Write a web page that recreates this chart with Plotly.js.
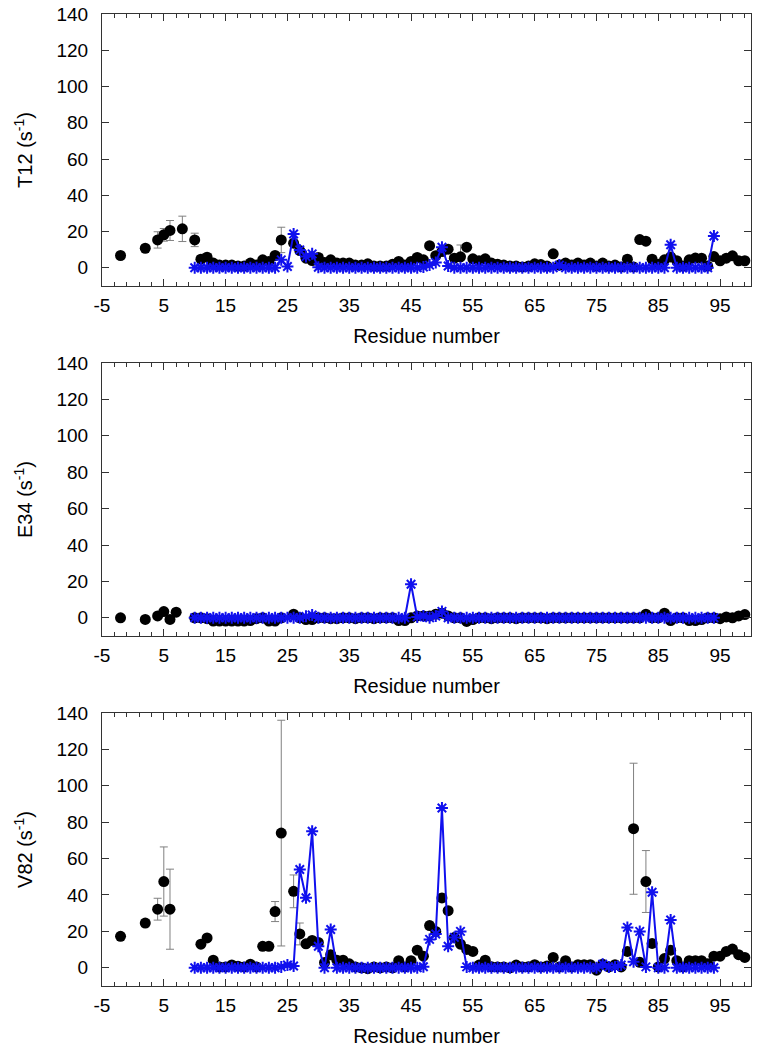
<!DOCTYPE html>
<html>
<head>
<meta charset="utf-8">
<script src="https://cdn.plot.ly/plotly-3.0.1.min.js"></script>
<style>
  body { margin: 0; background: #fff; }
  #chart { width: 759px; height: 1050px; }
</style>
</head>
<body>
<div id="chart"></div>
<script>
// residues with an experimental value (black dots)
const expResidues = [-2, 2, 4, 5, 6, 7, 8,
  10, 11, 12, 13, 14, 15, 16, 17, 18, 19, 20, 21, 22, 23, 24,
  26, 27, 28, 29, 30, 31, 32, 33, 34, 35, 36, 37, 38, 39, 40, 41, 42, 43, 44, 45, 46, 47, 48, 49,
  50, 51, 52, 53, 54, 55, 56, 57, 58, 59, 60, 61, 62, 63, 64, 65, 66, 67, 68, 69, 70, 71, 72, 73,
  74, 75, 76, 77, 78, 79, 80, 81, 82, 83, 84, 85, 86, 87, 88, 89, 90, 91, 92, 93, 94, 95, 96, 97, 98, 99];

// residues with a computed value (blue asterisks), 10..94
const calcResidues = [10, 11, 12, 13, 14, 15, 16, 17, 18, 19, 20, 21, 22, 23, 24, 25, 26, 27, 28, 29,
  30, 31, 32, 33, 34, 35, 36, 37, 38, 39, 40, 41, 42, 43, 44, 45, 46, 47, 48, 49,
  50, 51, 52, 53, 54, 55, 56, 57, 58, 59, 60, 61, 62, 63, 64, 65, 66, 67, 68, 69,
  70, 71, 72, 73, 74, 75, 76, 77, 78, 79, 80, 81, 82, 83, 84, 85, 86, 87, 88, 89,
  90, 91, 92, 93, 94];

// x tick labels (plain hyphen as in the original)
const xTickVals = [-5, 5, 15, 25, 35, 45, 55, 65, 75, 85, 95];
const xTickText = ['-5', '5', '15', '25', '35', '45', '55', '65', '75', '85', '95'];

// T12
const t12Exp = [6.8, 10.8, 15.4, 18.2, 20.6, null, 21.5,
  15.4, 4.8, 5.9, 2.6, 1.5, 1.5, 1.5, 1, 1, 2.6, 1.5, 4.4, 3.5, 6.8, 15.4,
  13.6, 9.5, 5.3, 4, 5.7, 3, 4.4, 2.6, 2.6, 2.6, 1.5, 1.5, 2.2, 1, 1, 1, 2, 3.5, 1.5, 3.5, 5.7, 4.4, 12.2, 6.7,
  9, 10.3, 5.3, 6.1, 11.4, 5, 3.9, 5, 2.6, 2, 1.5, 1, 1, 0.5, 1, 2.2, 1.8, 1, 7.7, 1.5, 2.6, 1.5, 2.6, 1.5,
  2.6, 1, 2.6, 1, 1.5, 0.5, 4.8, 0.5, 15.6, 14.7, 4.8, 2, 4.4, 6, 3.9, 1, 4.4, 5.4, 5.3, 1, 6.2, 3.9, 5.3, 6.6, 3.9, 3.9];
const t12Err = [0, 0, 4.5, 3.5, 5.5, 0, 7,
  3.7, 0, 0, 0, 0, 0, 0, 0, 0, 0, 0, 0, 0, 0, 7,
  0, 0, 0, 0, 0, 2, 0, 0, 0, 0, 0, 0, 0, 0, 0, 0, 0, 0, 0, 0, 0, 0, 0, 0,
  0, 0, 0, 6.5, 0, 0, 0, 0, 0, 0, 0, 0, 0, 0, 0, 0, 0, 0, 0, 0, 0, 0, 0, 0,
  0, 0, 0, 0, 0, 0, 0, 0, 0, 0, 0, 0, 0, 0, 0, 0, 0, 0, 0, 0, 0, 0, 0, 0, 0, 0];
const t12Calc = [0, 0, 0, 0, 0, 0, 0, 0, 0, 0, 0, 0, 0, 0, 4.4, 0.7, 18.7, 9.9, 6.2, 7.7,
  0.3, 0, 0, 0, 0, 0, 0, 0, 0, 0, 0, 0, 0, 0, 0, 0, 0, 0.5, 1.5, 3,
  11.4, 1, 0, 0, 0, 0, 0, 0, 0, 0, 0, 0, 0, 0, 0, 0, 0, 0, 0, 1.5,
  0, 0, 0, 0, 0, 0, 0, 0, 0, 0, 0, 0, 0, 0, 0, 0, 0, 12.7, 0, 0,
  0, 0, 0, 0, 17.6];

// E34
const e34Exp = [0, -0.9, 1, 3.4, -0.9, 3.1, null,
  0, 0, -0.5, -1.8, -1.8, -1.8, -1.8, -1.8, -1.8, -1.5, -0.5, 0, -1.8, -1.8, 0,
  2, 0, -1, -1, 0, 0, -0.5, -0.5, 0, 0, -0.5, 0, 0, -0.5, 0, 0, 0, -1.5, -1.5, 0, 1, 1, 1, 2,
  2.5, 1, 0, 0, -2, -1, 0, 0, -0.5, 0, 0, 0, -0.5, 0, 0, 0, 0, -0.5, 0, 0, 0, 0, 0, 0,
  0, 0, 0, 0, 0, 0, 0, 0, 0, 2, 0, 0, 2.5, -1.5, 0, 0, -1.5, -1.5, -1, 0, 0, -0.5, 0.5, 0, 1, 1.8];
const e34Err = expResidues.map(() => 0);
const e34Calc = [0, 0, 0, 0, 0, 0, 0, 0, 0, 0, 0, 0, 0, 0, 0, 0, 0, 0, 0.8, 1.5,
  0, 0, 0, 0, 0, 0, 0, 0, 0, 0, 0, 0, 0, 0, 0, 18.4, 0.5, 1, 0, 1,
  3.5, 0, 0, 0, 0, 0, 0, 0, 0, 0, 0, 0, 0, 0, 0, 0, 0, 0, 0, 0,
  0, 0, 0, 0, 0, 0, 0, 0, 0, 0, 0, 0, 0, 0, 0, 0, 0, 0, 0, 0,
  0, 0, 0, 0, 0];

// V82
const v82Exp = [17.3, 24.6, 32.2, 47.4, 32.2, null, null,
  null, 13, 16.4, 4.2, 0.5, 0.5, 1.6, 0.9, 0.5, 2, 0.5, 11.8, 11.8, 30.9, 74,
  42, 18.6, 13.2, 15, 13.9, 2.9, 7.2, 4.2, 4.2, 2.2, 0.5, 0, -0.5, 0.5, 0, 0.5, 0, 3.9, 0.5, 3.9, 9.7, 6.4, 23.2, 20,
  38.4, 31.4, 16.7, 13, 10.1, 9, 1.5, 4.2, 0.6, 0.5, 0.5, 0, 1.5, 0.5, 0.6, 1.7, 0.5, 1, 5.7, 0.5, 3.9, 0.5, 1.7, 1.7,
  1.7, -1.3, 2, 0.5, 1.7, 0.5, 9, 76.4, 3, 47.4, 13.4, 0.5, 5.1, 9.7, 3.9, 0.5, 3.9, 3.9, 3.9, 2.2, 6.4, 6.4, 9, 10.3, 7.2, 5.7];
const v82Err = [0, 2, 6, 19, 22, 0, 0,
  0, 0, 0, 0, 0, 0, 0, 0, 0, 0, 0, 0, 0, 5.5, 62,
  9, 6, 0, 0, 0, 0, 0, 0, 0, 0, 0, 0, 0, 0, 0, 0, 0, 0, 0, 0, 0, 0, 2, 0,
  2, 0, 0, 0, 0, 0, 0, 0, 0, 0, 0, 0, 0, 0, 0, 0, 0, 0, 0, 0, 0, 0, 0, 0,
  0, 0, 0, 0, 0, 0, 0, 36, 0, 17, 2, 0, 0, 2, 0, 0, 0, 0, 0, 0, 0, 0, 0, 0, 0, 0];
const v82Calc = [0, 0, 0, 0, 0, 0, 0, 0, 0, 0, 0, 0, 0, 0, 0.5, 1.5, 1, 54, 38.5, 75,
  11.8, 0, 21, 0, 0, 0, 0, 0, 0, 0, 0, 0, 0, 0, 0, 0, 0, 0.6, 15.6, 18.6,
  87.8, 11.8, 16.7, 20, 0.5, 0, 0, 0, 0, 0, 0, 0, 0, 0, 0, 0, 0, 0, 0, 0,
  0, 0, 0, 0, 0, 0, 2, 0.5, 0.5, 1.5, 22.2, 3.3, 20, 0.5, 41.5, 0, 0, 26.3, 0, 0,
  0, 0, 0, 0, 0];

const panels = [
  { name: 'T12', exp: t12Exp, err: t12Err, calc: t12Calc },
  { name: 'E34', exp: e34Exp, err: e34Err, calc: e34Calc },
  { name: 'V82', exp: v82Exp, err: v82Err, calc: v82Calc }
];
const domains = [[0.7202, 1], [0.3601, 0.6409], [0, 0.2809]];

const FONT = 'Liberation Sans, Arial, Helvetica, sans-serif';
const BLUE = '#1010ee';
const traces = [];
const layout = {
  width: 759, height: 1050,
  margin: { l: 102, r: 8, t: 14, b: 64 },
  paper_bgcolor: '#fff', plot_bgcolor: '#fff',
  showlegend: false,
  font: { family: FONT, size: 19, color: '#000' }
};

panels.forEach((p, i) => {
  const n = i === 0 ? '' : String(i + 1);
  traces.push({
    x: expResidues, y: p.exp, xaxis: 'x' + n, yaxis: 'y' + n,
    type: 'scatter', mode: 'markers',
    marker: { symbol: 'circle', size: 11, color: '#000' },
    error_y: { type: 'data', array: p.err, visible: true, color: '#808080', thickness: 1, width: 4 },
    cliponaxis: false
  });
  traces.push({
    x: calcResidues, y: p.calc, xaxis: 'x' + n, yaxis: 'y' + n,
    type: 'scatter', mode: 'lines+markers',
    line: { color: BLUE, width: 2 },
    marker: { symbol: 'asterisk-open', size: 10, color: BLUE, line: { color: BLUE, width: 2 } }
  });
  layout['xaxis' + n] = {
    anchor: 'y' + n, domain: [0, 1],
    range: [-5, 100], tickmode: 'array', tickvals: xTickVals, ticktext: xTickText,
    ticks: 'inside', ticklen: 7, tickwidth: 1, tickcolor: '#333',
    minor: { dtick: 2, tick0: -5, ticks: 'inside', ticklen: 4, tickcolor: '#333' },
    showline: true, linecolor: '#333', linewidth: 1, mirror: 'ticks',
    showgrid: false, zeroline: false,
    tickfont: { size: 19 }, ticklabelstandoff: 2,
    title: { text: 'Residue number', font: { size: 20 }, standoff: 14 }
  };
  layout['yaxis' + n] = {
    anchor: 'x' + n, domain: domains[i],
    range: [-10, 140], tick0: 0, dtick: 20,
    ticks: 'inside', ticklen: 7, tickwidth: 1, tickcolor: '#333',
    showline: true, linecolor: '#333', linewidth: 1, mirror: 'ticks',
    showgrid: false, zeroline: false,
    tickfont: { size: 19 }, ticklabelstandoff: 9,
    title: { text: p.name + ' (s<sup>-1</sup>)', font: { size: 20 }, standoff: 18 }
  };
});

Plotly.newPlot('chart', traces, layout, { staticPlot: true });
</script>
</body>
</html>
